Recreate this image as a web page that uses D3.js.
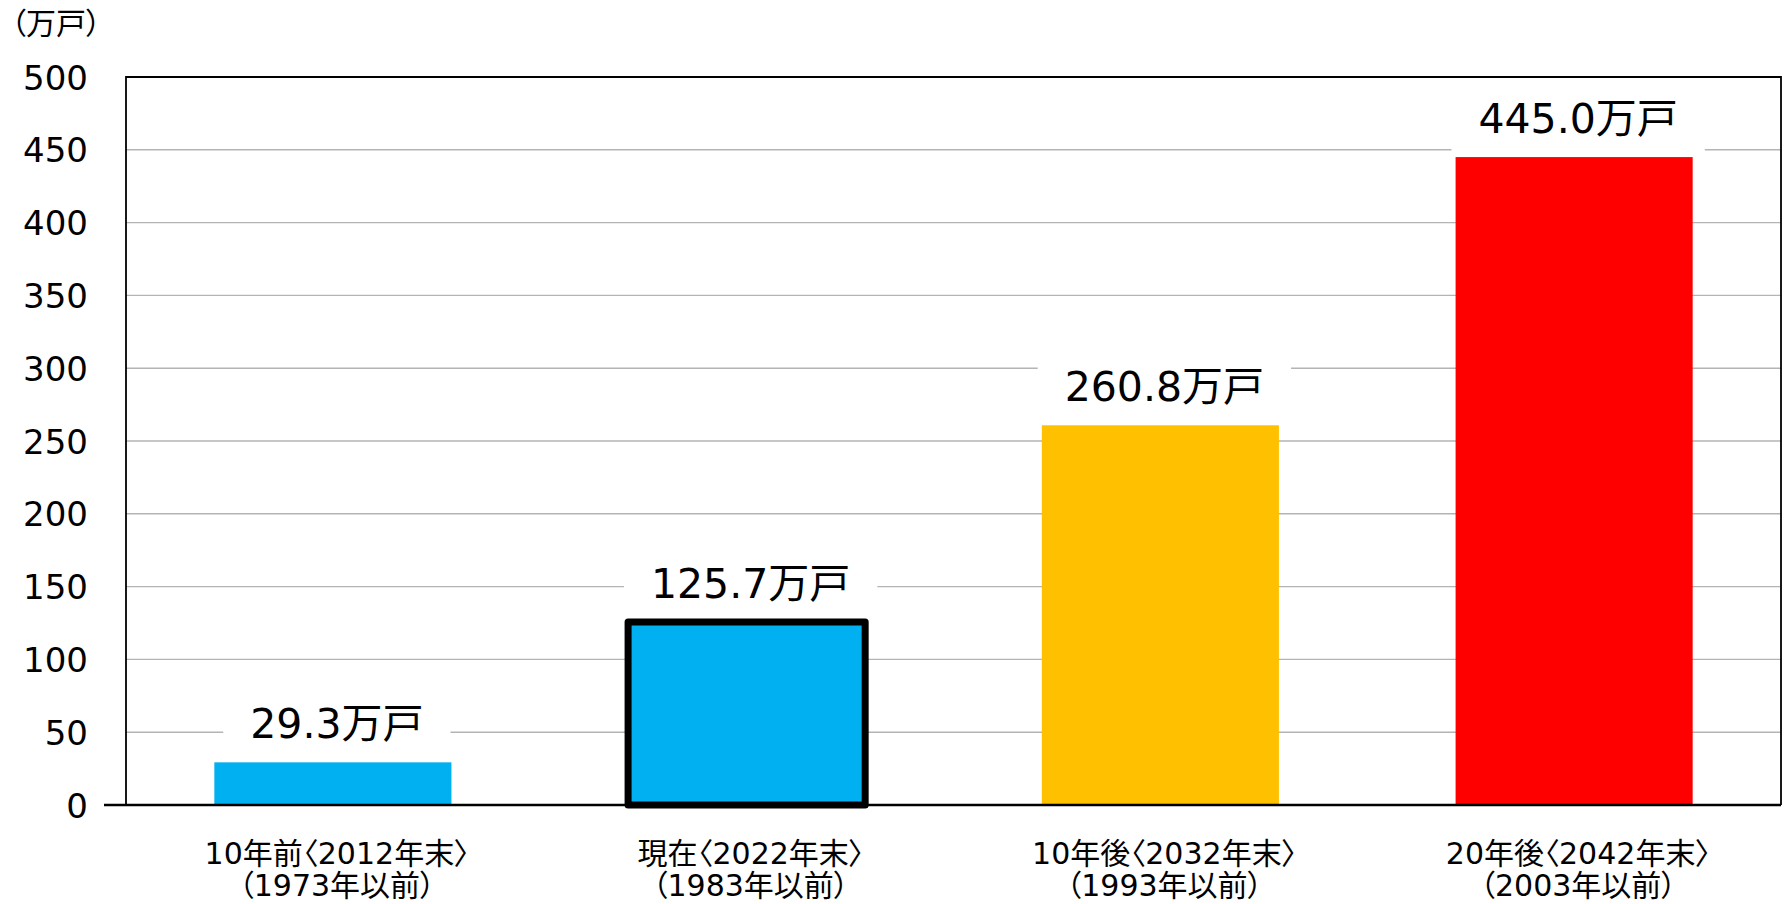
<!DOCTYPE html>
<html lang="ja">
<head>
<meta charset="utf-8">
<title>戸数の推移</title>
<script src="https://d3js.org/d3.v7.min.js"></script>
<style>
  body { margin: 0; background: #fff; }
  svg text { font-family: "DejaVu Sans", "Noto Sans CJK JP", sans-serif; fill: #000; }
  .jp { font-feature-settings: "palt"; }
</style>
</head>
<body>
<script>
// data
var categories = ["10年前〈2012年末〉", "現在〈2022年末〉", "10年後〈2032年末〉", "20年後〈2042年末〉"];
var subLabels = ["（1973年以前）", "（1983年以前）", "（1993年以前）", "（2003年以前）"];
var values = [29.3, 125.7, 260.8, 445.0];
var barColors = ["#00B0F0", "#00B0F0", "#FFC000", "#FF0000"];
var highlighted = [false, true, false, false];
var yTicks = [0, 50, 100, 150, 200, 250, 300, 350, 400, 450, 500];
var unitLabel = "（万戸）";
var valueSuffix = "万戸";

var w = 1787, h = 904;
var plot = { left: 126, right: 1781, top: 77, bottom: 805 };

var svg = d3.select("body").append("svg")
  .attr("width", w).attr("height", h);

var x = d3.scaleBand()
  .domain(categories)
  .range([plot.left, plot.right])
  .paddingInner(0.427)
  .paddingOuter(0.2135);

var y = d3.scaleLinear()
  .domain([0, 500])
  .range([plot.bottom, plot.top]);

// gridlines
svg.append("g").selectAll("line")
  .data(yTicks.filter(function(d) { return d > 0 && d < 500; }))
  .enter().append("line")
  .attr("x1", plot.left).attr("x2", plot.right)
  .attr("y1", function(d) { return y(d); })
  .attr("y2", function(d) { return y(d); })
  .attr("stroke", "#b4b4b4")
  .attr("stroke-width", 1.4);

// y tick labels
svg.append("g").selectAll("text")
  .data(yTicks)
  .enter().append("text")
  .attr("x", 88)
  .attr("y", function(d) { return y(d) + 12.5; })
  .attr("text-anchor", "end")
  .style("font-size", "34px")
  .text(function(d) { return d; });

// unit label
svg.append("text")
  .attr("class", "jp")
  .attr("x", 11).attr("y", 34)
  .style("font-size", "30px")
  .text(unitLabel);

// value label backgrounds + text
var labels = svg.append("g").selectAll("g")
  .data(values)
  .enter().append("g");

labels.append("text")
  .attr("class", "jp")
  .attr("x", function(d, i) { return x(categories[i]) + x.bandwidth() / 2 + 4; })
  .attr("y", function(d) { return y(d) - 24; })
  .attr("text-anchor", "middle")
  .style("font-size", "41px")
  .text(function(d) { return d.toFixed(1) + valueSuffix; });

labels.each(function(d) {
  var g = d3.select(this);
  var bb = g.select("text").node().getBBox();
  g.insert("rect", "text")
    .attr("x", bb.x - 27)
    .attr("width", bb.width + 54)
    .attr("y", y(d) - 24 - 46)
    .attr("height", 66)
    .attr("fill", "#fff");
});

// bars
svg.append("g").selectAll("rect")
  .data(values)
  .enter().append("rect")
  .attr("x", function(d, i) { return x(categories[i]); })
  .attr("width", x.bandwidth())
  .attr("y", function(d) { return y(d); })
  .attr("height", function(d) { return y(0) - y(d); })
  .attr("fill", function(d, i) { return barColors[i]; })
  .attr("stroke", function(d, i) { return highlighted[i] ? "#000" : "none"; })
  .attr("stroke-width", 7)
  .attr("stroke-linejoin", "round");

// frame
svg.append("path")
  .attr("d", "M" + plot.left + "," + plot.bottom + "V" + plot.top + "H" + plot.right + "V" + plot.bottom)
  .attr("fill", "none")
  .attr("stroke", "#000")
  .attr("stroke-width", 1.8);

// x axis line
svg.append("line")
  .attr("x1", 104).attr("x2", plot.right)
  .attr("y1", y(0)).attr("y2", y(0))
  .attr("stroke", "#000")
  .attr("stroke-width", 2.4);

// category labels
var cat = svg.append("g").selectAll("g")
  .data(categories)
  .enter().append("g")
  .attr("transform", function(d) { return "translate(" + (x(d) + x.bandwidth() / 2 + 4) + ",0)"; });

cat.append("text")
  .attr("class", "jp")
  .attr("y", 864)
  .attr("text-anchor", "middle")
  .style("font-size", "30px")
  .text(function(d) { return d; });

cat.append("text")
  .attr("class", "jp")
  .attr("y", 896)
  .attr("text-anchor", "middle")
  .style("font-size", "30px")
  .text(function(d, i) { return subLabels[i]; });
</script>
</body>
</html>
